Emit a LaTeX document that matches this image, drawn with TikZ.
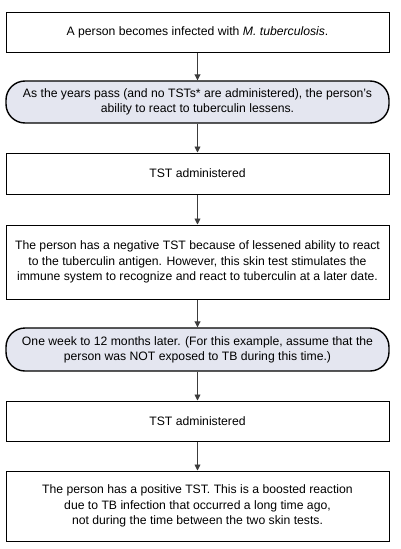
\documentclass[tikz,border=0pt]{standalone}
\usepackage{fontspec}
\setmainfont{Liberation Sans}
\usetikzlibrary{arrows.meta}
\definecolor{ovalfill}{RGB}{228,230,240}
\definecolor{linegray}{RGB}{60,60,60}
\begin{document}
\begin{tikzpicture}[x=1pt,y=-1pt,
  box/.style={draw=black,line width=1pt,fill=white,minimum width=383pt,inner sep=0pt,align=center,font=\fontsize{12.2}{15.3}\selectfont},
  oval/.style={box,fill=ovalfill,line width=1.4pt,rounded corners=19pt},
  conn/.style={draw=linegray,line width=0.9pt,-{Triangle[length=6pt,width=6pt]}}]
\useasboundingbox (0,0) rectangle (400,549);
\node[box,minimum height=40pt] (b1) at (197.5,32) {A person becomes infected with \textit{M. tuberculosis}.};
\node[oval,minimum height=42pt] (b2) at (197.5,102) {As the years pass (and no TSTs* are administered), the person's\\ability to react to tuberculin lessens.};
\node[box,minimum height=41pt] (b3) at (197.5,173.5) {TST administered};
\node[box,minimum height=74pt] (b4) at (197.5,262) {The person has a negative TST because of lessened ability to react\\to the tuberculin antigen. However, this skin test stimulates the\\immune system to recognize and react to tuberculin at a later date.};
\node[oval,minimum height=43pt] (b5) at (197.5,349.5) {One week to 12 months later. (For this example, assume that the\\person was NOT exposed to TB during this time.)};
\node[box,minimum height=40pt] (b6) at (197.5,421) {TST administered};
\node[box,minimum height=70pt] (b7) at (197.5,506) {The person has a positive TST. This is a boosted reaction\\due to TB infection that occurred a long time ago,\\not during the time between the two skin tests.};
\draw[conn] (b1) -- (b2);
\draw[conn] (b2) -- (b3);
\draw[conn] (b3) -- (b4);
\draw[conn] (b4) -- (b5);
\draw[conn] (b5) -- (b6);
\draw[conn] (b6) -- (b7);
\end{tikzpicture}
\end{document}
